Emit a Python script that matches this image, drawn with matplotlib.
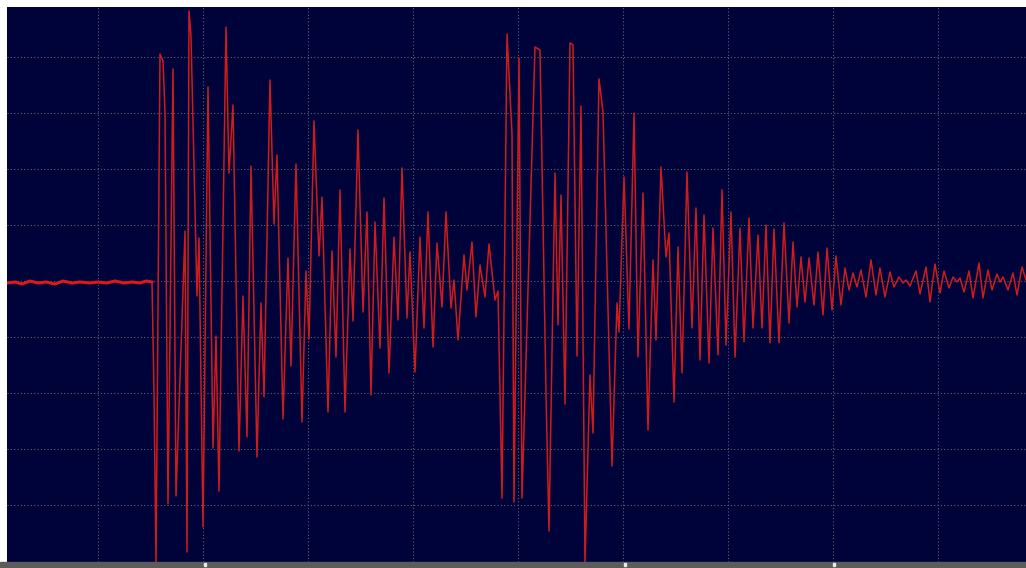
import matplotlib
matplotlib.use("Agg")
import matplotlib.pyplot as plt
from matplotlib.patches import Rectangle

# Scope capture: sample index vs amplitude (counts from baseline)
quiet_t = [7, 15, 22, 30, 38, 46, 55, 63, 72, 80, 90, 98, 107, 115, 124, 132, 140, 146, 152]
quiet_v = [-2, -1, -3, 0, -2, -1, -3, 0, -2, -1, -2, -1, -2, 0, -2, -1, -2, 0, -1]

trace_t = [152, 154, 156, 160, 163, 165, 168, 173, 176, 185, 187, 189, 191, 197, 199,
           203, 208, 213, 216, 219, 226, 229, 233, 239, 243, 247, 251, 257, 261, 264,
           270, 274, 277, 283, 288, 291, 296, 302, 306, 309, 314, 319, 322, 328, 332,
           336, 340, 345, 350, 353, 358, 363, 367, 371, 375, 380, 384, 389, 394, 398,
           402, 407, 410, 415, 420, 424, 428, 433, 437, 442, 446, 451, 454, 458, 464,
           467, 472, 476, 480, 485, 489, 495, 498, 502, 507, 512, 514, 519, 522, 535,
           540, 546, 549, 555, 558, 561, 565, 570, 573, 577, 581, 585, 590, 593, 599,
           603, 612, 617, 619, 624, 629, 634, 638, 643, 648, 653, 656, 661, 666, 669,
           674, 678, 682, 687, 692, 696, 700, 704, 709, 713, 718, 722, 726, 731, 735,
           740, 744, 749, 753, 758, 762, 766, 770, 774, 779, 784, 789, 793, 797, 801,
           805, 809, 814, 818, 823, 827, 832, 836, 841, 845, 849, 853, 857, 861, 866,
           871, 876, 880, 885, 890, 894, 899, 903, 906, 910, 916, 920, 926, 930, 935,
           940, 944, 949, 953, 957, 960, 964, 969, 973, 979, 983, 988, 992, 997, 1000,
           1003, 1008, 1013, 1017, 1022, 1026]
trace_v = [-1, -112, -282, 227, 220, 169, -223, 212, -215, 50, -271, 270, 245, -15, 43,
           -246, 194, -167, -55, -210, 254, 108, 176, -170, -15, -156, 115, -176, -22, -116,
           201, 57, 126, -138, 23, -85, 117, -141, 10, -58, 160, 25, 84, -131, 30,
           -76, 91, -131, 32, -40, 151, -31, 69, -114, 59, -67, 83, -92, 44, -39,
           113, -37, 29, -91, 44, -47, 69, -66, 38, -26, 69, -27, 1, -59, 26,
           -9, 39, -36, 16, -16, 37, -19, -10, -217, 247, 147, -221, 223, -217, 234,
           231, -112, -250, 108, -44, 86, -123, 238, 236, -75, 175, -282, -94, -152, 202,
           169, -185, -22, -51, 104, -48, 168, -76, 88, -149, 21, -59, 114, 24, 48,
           -121, 34, -92, 109, -47, 73, -79, 66, -82, 53, -74, 91, -64, 69, -76,
           53, -61, 63, -47, 46, -47, 56, -62, 52, -62, 58, -42, 39, -26, 24,
           -21, 23, -24, 29, -34, 33, -29, 25, -24, 13, -9, 8, -6, 11, -16,
           21, -14, 13, -16, 9, -6, 4, -2, 1, -5, 10, -13, 14, -21, 17,
           -12, 10, -7, 4, -1, 3, -11, 10, -17, 18, -17, 11, -9, 7, -1,
           4, -9, 8, -14, 14, 1]

grid_x = [98, 203, 308, 413, 518, 623, 728, 833, 938]
grid_y = [224, 168, 112, 56, 0, -56, -112, -168, -224]
marker_x = [204, 624, 833]

W, H = 1026, 568
fig = plt.figure(figsize=(W / 100, H / 100), dpi=100)
fig.patch.set_facecolor("white")

ax = fig.add_axes([7 / W, 6 / H, (W - 7) / W, (H - 13) / H])
ax.set_facecolor("#00023a")
ax.set_xlim(7, 1026)
ax.set_ylim(-281, 274)

for gx in grid_x:
    ax.axvline(gx, color="#4e6c66", lw=0.8, ls=(0, (1, 2)), zorder=1)
for gy in grid_y:
    ax.axhline(gy, color="#4e6c66", lw=0.8, ls=(0, (1, 2)), zorder=1)

ax.plot(quiet_t, quiet_v, color="#e01818", lw=2.2, zorder=3)
ax.plot(trace_t, trace_v, color="#cc1c1c", lw=1.1, zorder=3,
        solid_joinstyle="round")

ax.set_xticks([])
ax.set_yticks([])
for s in ax.spines.values():
    s.set_visible(False)

# grey strip along the bottom with small white markers
fig.patches.append(Rectangle((0, 0), 1, 6 / H, transform=fig.transFigure,
                             color="#5c5c5c", zorder=0))
for mx in marker_x:
    fig.patches.append(Rectangle((mx / W, 2 / H), 1.5 / W, 3 / H, transform=fig.transFigure,
                                 color="#e8e8e8", zorder=1))

fig.savefig("out.png", dpi=100, facecolor=fig.get_facecolor())
